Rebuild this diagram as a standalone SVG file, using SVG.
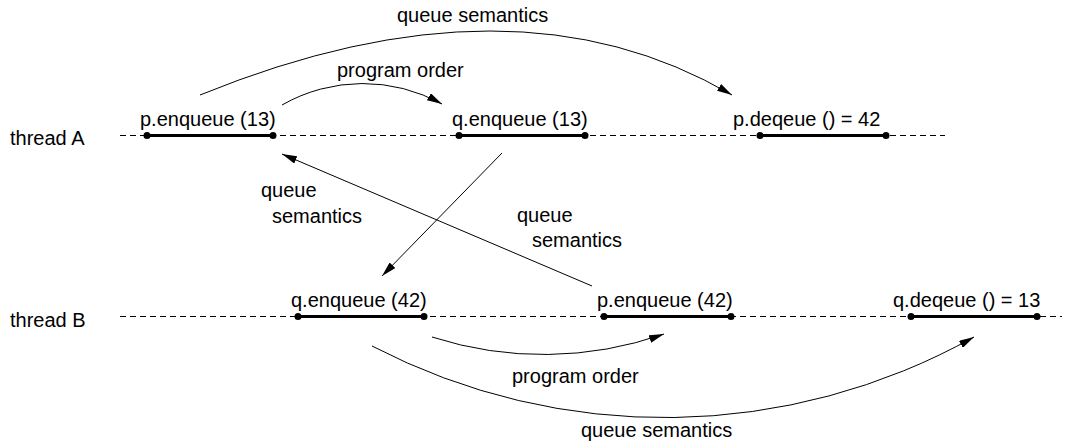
<svg xmlns="http://www.w3.org/2000/svg" width="1066" height="445" viewBox="0 0 1066 445">
<style>
text { font-family: "Liberation Sans", Arial, sans-serif; font-size: 20px; fill: #000; }
.thread { stroke: #000; stroke-width: 1; stroke-dasharray: 6 4; fill: none; }
.op { stroke: #000; stroke-width: 3; fill: none; }
.dot { fill: #000; }
.conn { stroke: #000; stroke-width: 1; fill: none; marker-end: url(#arrow); }
</style>
<defs>
<marker id="arrow" viewBox="0 0 15 8" refX="15" refY="4" markerWidth="15" markerHeight="8" markerUnits="userSpaceOnUse" orient="auto">
<path d="M0,0 L15,4 L0,8 z" fill="#000"/>
</marker>
</defs>
<rect width="1066" height="445" fill="#fff"/>

<g id="threadA">
<text x="10" y="145">thread A</text>
<line class="thread" x1="120" y1="135.5" x2="945" y2="135.5"/>
</g>
<g id="threadB">
<text x="10" y="327">thread B</text>
<line class="thread" x1="120" y1="316.5" x2="1062" y2="316.5"/>
</g>

<g id="a_p_enq13">
<text x="140" y="126">p.enqueue (13)</text>
<line class="op" x1="147" y1="135.5" x2="273" y2="135.5"/>
<circle class="dot" cx="147" cy="135.5" r="3.5"/>
<circle class="dot" cx="273" cy="135.5" r="3.5"/>
</g>
<g id="a_q_enq13">
<text x="452" y="126">q.enqueue (13)</text>
<line class="op" x1="459" y1="135.5" x2="585" y2="135.5"/>
<circle class="dot" cx="459" cy="135.5" r="3.5"/>
<circle class="dot" cx="585" cy="135.5" r="3.5"/>
</g>
<g id="a_p_deq">
<text x="733" y="126">p.deqeue () = 42</text>
<line class="op" x1="760" y1="135.5" x2="886" y2="135.5"/>
<circle class="dot" cx="760" cy="135.5" r="3.5"/>
<circle class="dot" cx="886" cy="135.5" r="3.5"/>
</g>

<g id="b_q_enq42">
<text x="291" y="307">q.enqueue (42)</text>
<line class="op" x1="298" y1="316.5" x2="424" y2="316.5"/>
<circle class="dot" cx="298" cy="316.5" r="3.5"/>
<circle class="dot" cx="424" cy="316.5" r="3.5"/>
</g>
<g id="b_p_enq42">
<text x="597" y="307">p.enqueue (42)</text>
<line class="op" x1="604" y1="316.5" x2="731" y2="316.5"/>
<circle class="dot" cx="604" cy="316.5" r="3.5"/>
<circle class="dot" cx="731" cy="316.5" r="3.5"/>
</g>
<g id="b_q_deq">
<text x="893" y="307">q.deqeue () = 13</text>
<line class="op" x1="911" y1="316.5" x2="1037" y2="316.5"/>
<circle class="dot" cx="911" cy="316.5" r="3.5"/>
<circle class="dot" cx="1037" cy="316.5" r="3.5"/>
</g>

<g id="connectors">
<path class="conn" d="M200,95 Q514,-33 732,95"/>
<path class="conn" d="M282,105 A163,163 0 0 1 442,104"/>
<line class="conn" x1="502" y1="153" x2="382" y2="276"/>
<line class="conn" x1="592" y1="286" x2="282" y2="154"/>
<path class="conn" d="M432,337 A364,364 0 0 0 664,334"/>
<path class="conn" d="M372,346 A634,634 0 0 0 974,337"/>
<text x="397" y="22">queue semantics</text>
<text x="337" y="77">program order</text>
<text x="261" y="197">queue</text>
<text x="272" y="223">semantics</text>
<text x="517" y="222">queue</text>
<text x="532" y="247">semantics</text>
<text x="512" y="383">program order</text>
<text x="581" y="437">queue semantics</text>
</g>
</svg>
